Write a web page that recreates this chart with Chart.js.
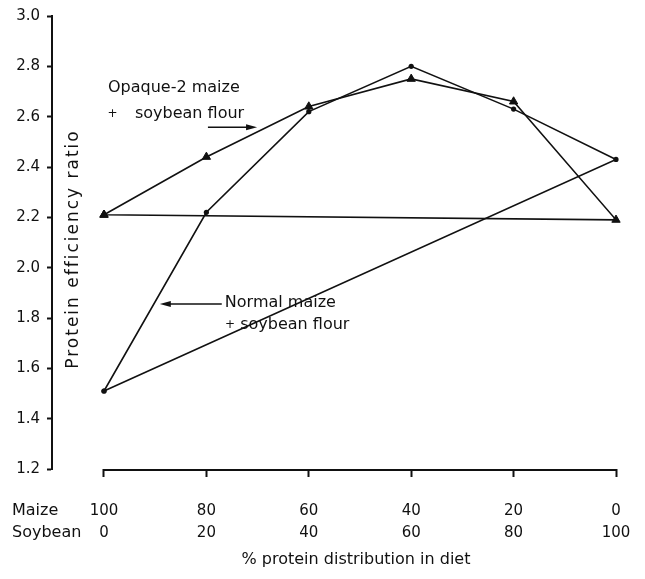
<!DOCTYPE html>
<html>
<head>
<meta charset="utf-8">
<script src="https://cdn.jsdelivr.net/npm/chart.js@4/dist/chart.umd.min.js"></script>
<style>
  html, body { margin: 0; padding: 0; background: #fff; }
  #wrap { width: 645px; height: 579px; }
</style>
</head>
<body>
<div id="wrap"><canvas id="c" width="645" height="579"></canvas></div>
<script>
// ---- data ----
const maizePct   = [100, 80, 60, 40, 20, 0];
const soybeanPct = [0, 20, 40, 60, 80, 100];
const opaque2PER = [2.21, 2.44, 2.64, 2.75, 2.66, 2.19];
const normalPER  = [1.51, 2.22, 2.62, 2.80, 2.63, 2.43];
const yTicks     = [1.2, 1.4, 1.6, 1.8, 2.0, 2.2, 2.4, 2.6, 2.8, 3.0];
const rowNames   = ['Maize', 'Soybean'];
const xTitle     = '% protein distribution in diet';
const yTitle     = 'Protein efficiency ratio';

// closed loop: last point joins back to the first
function loop(vals) {
  const pts = soybeanPct.map((s, i) => ({ x: s, y: vals[i] }));
  pts.push({ x: pts[0].x, y: pts[0].y });
  return pts;
}

const FONT = 'DejaVu Sans';
const INK = '#111';

const overlay = {
  id: 'overlay',
  afterDraw(chart) {
    const ctx = chart.ctx;
    const xs = chart.scales.x, ys = chart.scales.y;
    const X = v => xs.getPixelForValue(v), Y = v => ys.getPixelForValue(v);
    ctx.save();
    // x axis line spanning the categories only
    ctx.strokeStyle = INK; ctx.lineWidth = 2;
    ctx.beginPath();
    ctx.moveTo(X(soybeanPct[0]) - 1, chart.chartArea.bottom + 1);
    ctx.lineTo(X(soybeanPct[soybeanPct.length - 1]) + 1, chart.chartArea.bottom + 1);
    ctx.stroke();

    ctx.fillStyle = INK;
    ctx.font = '16px "' + FONT + '"';
    // row labels for the two-line tick labels
    const row1 = xs.top + 8 + 23 + 11;
    ctx.textAlign = 'left'; ctx.textBaseline = 'middle';
    ctx.fillText(rowNames[0], 12, row1);
    ctx.fillText(rowNames[1], 12, row1 + 22);
    // x title
    ctx.textAlign = 'center';
    ctx.fillText(xTitle, (X(0) + X(100)) / 2 - 4, row1 + 49);
    // y title (inside the gap between axis and first category)
    ctx.save();
    ctx.font = '17px "' + FONT + '"';
    ctx.letterSpacing = '2px';
    ctx.translate(74, 249);
    ctx.rotate(-Math.PI / 2);
    ctx.textAlign = 'center'; ctx.textBaseline = 'middle';
    ctx.fillText(yTitle, 0, 0);
    ctx.restore();

    // annotations
    ctx.textAlign = 'left'; ctx.textBaseline = 'alphabetic';
    ctx.fillText('Opaque-2 maize', X(0.78), Y(2.699));
    ctx.fillText('soybean flour', X(6.05), Y(2.596));
    ctx.fillText('Normal maize', X(23.6), Y(1.843));
    ctx.fillText('soybean flour', X(26.6), Y(1.757));
    ctx.font = '12px "' + FONT + '"';
    ctx.textAlign = 'center';
    ctx.fillText('+', X(1.65), Y(2.60));
    ctx.fillText('+', X(24.6), Y(1.761));

    function arrow(x1, y1, x2, y2) {
      const a = Math.atan2(y2 - y1, x2 - x1);
      ctx.lineWidth = 1.5; ctx.strokeStyle = INK;
      ctx.beginPath(); ctx.moveTo(x1, y1); ctx.lineTo(x2 - 8 * Math.cos(a), y2 - 8 * Math.sin(a)); ctx.stroke();
      ctx.beginPath();
      ctx.moveTo(x2, y2);
      ctx.lineTo(x2 - 11 * Math.cos(a) + 3 * Math.sin(a), y2 - 11 * Math.sin(a) - 3 * Math.cos(a));
      ctx.lineTo(x2 - 11 * Math.cos(a) - 3 * Math.sin(a), y2 - 11 * Math.sin(a) + 3 * Math.cos(a));
      ctx.closePath(); ctx.fill();
    }
    arrow(X(20.3), Y(2.558), X(29.9), Y(2.558));
    arrow(X(23.0), Y(1.856), X(10.9), Y(1.856));
    ctx.restore();
  }
};

new Chart(document.getElementById('c'), {
  type: 'scatter',
  data: {
    datasets: [
      {
        label: 'Opaque-2 maize + soybean flour',
        data: loop(opaque2PER),
        showLine: true,
        borderColor: INK, borderWidth: 1.6,
        pointStyle: 'triangle', pointRadius: 4.8,
        pointBackgroundColor: INK, pointBorderColor: INK, pointBorderWidth: 1,
        clip: false
      },
      {
        label: 'Normal maize + soybean flour',
        data: loop(normalPER),
        showLine: true,
        borderColor: INK, borderWidth: 1.6,
        pointStyle: 'circle', pointRadius: 2.6,
        pointBackgroundColor: INK, pointBorderColor: INK, pointBorderWidth: 0,
        clip: false
      }
    ]
  },
  options: {
    responsive: false,
    animation: false,
    events: [],
    layout: { padding: { top: 16, right: 29, bottom: 0, left: 0 } },
    plugins: { legend: { display: false }, tooltip: { enabled: false }, title: { display: false } },
    scales: {
      x: {
        type: 'linear',
        min: -10.156, max: 100,
        afterFit(s) { s.height = 110; s.paddingLeft = 0; s.paddingRight = 0; },
        afterBuildTicks(s) { s.ticks = soybeanPct.map(v => ({ value: v })); },
        border: { display: false },
        grid: { drawOnChartArea: false, drawTicks: true, tickLength: 8, tickWidth: 2, tickColor: INK, color: INK },
        ticks: {
          color: INK, padding: 23, maxRotation: 0, autoSkip: false,
          font: { family: FONT, size: 15, lineHeight: 22 / 15 },
          callback(v) { const i = soybeanPct.indexOf(v); return i < 0 ? '' : [String(maizePct[i]), String(soybeanPct[i])]; }
        }
      },
      y: {
        type: 'linear',
        min: 1.2, max: 3.0,
        afterFit(s) { s.width = 52; },
        afterBuildTicks(s) { s.ticks = yTicks.map(v => ({ value: v })); },
        border: { display: true, width: 2, color: INK },
        grid: { drawOnChartArea: false, drawTicks: true, tickLength: 5, tickWidth: 2, tickColor: INK, color: INK },
        ticks: {
          color: INK, padding: 7,
          font: { family: FONT, size: 15 },
          callback(v) { return Number(v).toFixed(1); }
        }
      }
    }
  },
  plugins: [overlay]
});
</script>
</body>
</html>
